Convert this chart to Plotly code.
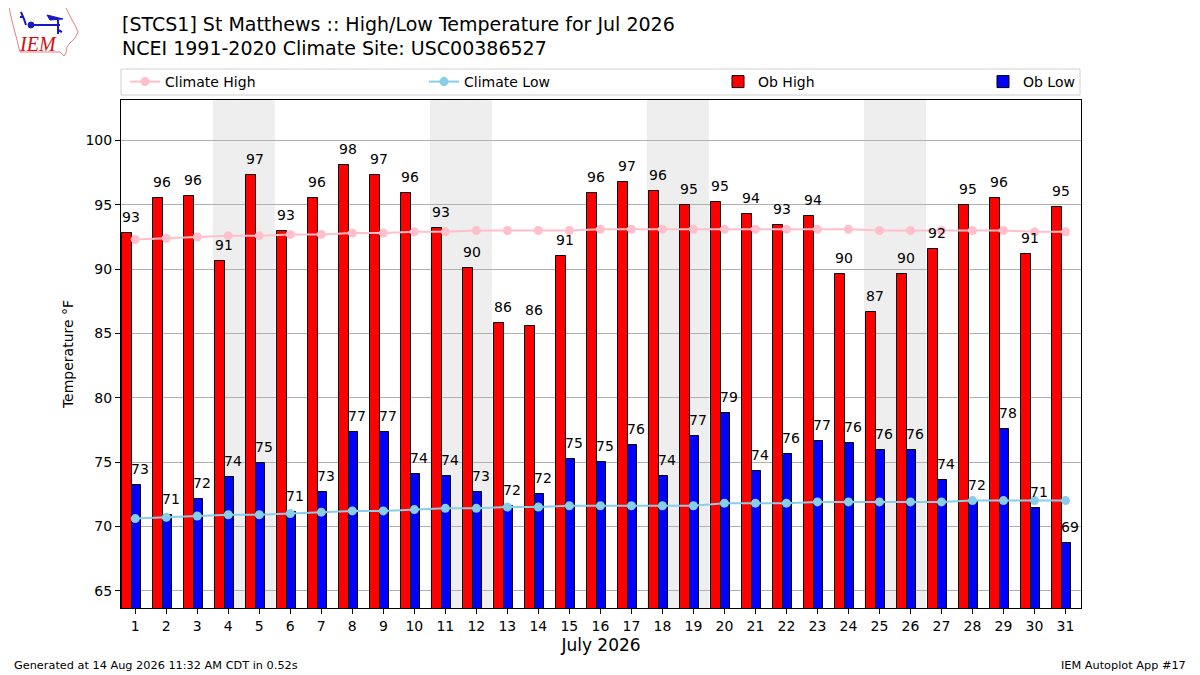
import plotly.graph_objects as go

# July 2026 daily data (St Matthews, STCS1)
days = list(range(1, 32))
ob_high = [92.8, 95.5, 95.7, 90.6, 97.3, 93.0, 95.5, 98.1, 97.3, 95.9,
           93.2, 90.1, 85.8, 85.6, 91.0, 95.9, 96.8, 96.1, 95.0, 95.2,
           94.3, 93.4, 94.1, 89.6, 86.7, 89.6, 91.6, 95.0, 95.5, 91.2, 94.8]
ob_low = [73.2, 70.9, 72.1, 73.8, 74.9, 71.1, 72.7, 77.3, 77.3, 74.1,
          73.9, 72.7, 71.6, 72.5, 75.2, 75.0, 76.3, 73.9, 77.0, 78.8,
          74.3, 75.6, 76.6, 76.5, 75.9, 75.9, 73.6, 72.0, 77.6, 71.4, 68.7]
clim_high = [92.3, 92.4, 92.5, 92.6, 92.6, 92.7, 92.7, 92.8, 92.8, 92.9,
             92.9, 93.0, 93.0, 93.0, 93.0, 93.1, 93.1, 93.1, 93.1, 93.1,
             93.1, 93.1, 93.1, 93.1, 93.0, 93.0, 93.0, 93.0, 93.0, 92.9, 92.9]
clim_low = [70.6, 70.7, 70.8, 70.9, 70.9, 71.0, 71.1, 71.2, 71.2, 71.3,
            71.4, 71.4, 71.5, 71.5, 71.6, 71.6, 71.6, 71.6, 71.6, 71.8,
            71.8, 71.8, 71.9, 71.9, 71.9, 71.9, 71.9, 72.0, 72.0, 72.0, 72.0]
weekends = [(4, 5), (11, 12), (18, 19), (25, 26)]
yticks = [65, 70, 75, 80, 85, 90, 95, 100]

FONT = "DejaVu Sans"
OFF = 8  # page body margin
W, H = 1200 - OFF, 675 - OFF
ML, MT = 121 - OFF, 100 - OFF
PW, PH = 960, 508
MR, MB = W - ML - PW, H - MT - PH


def px(x, y):
    # screen pixel position -> paper coords
    return (x - OFF - ML) / PW, (MT + PH - (y - OFF)) / PH


def ppath(pts, close=True):
    s = "M " + " L ".join(f"{px(a, b)[0]:.5f},{px(a, b)[1]:.5f}" for a, b in pts)
    return s + (" Z" if close else "")


fig = go.Figure()

fig.add_trace(go.Bar(
    x=days, y=ob_high, offset=-0.42, width=0.3, base=0,
    marker=dict(color="#ff0000", line=dict(color="black", width=1)),
    name="Ob High", legend="legend3"))
fig.add_trace(go.Bar(
    x=days, y=ob_low, offset=-0.12, width=0.29, base=0,
    marker=dict(color="#0000ff", line=dict(color="black", width=1)),
    name="Ob Low", legend="legend4"))
fig.add_trace(go.Scatter(
    x=days, y=clim_high, mode="lines+markers", name="Climate High",
    line=dict(color="pink", width=2), marker=dict(size=9, color="pink"),
    legend="legend"))
fig.add_trace(go.Scatter(
    x=days, y=clim_low, mode="lines+markers", name="Climate Low",
    line=dict(color="skyblue", width=2), marker=dict(size=9, color="skyblue"),
    legend="legend2"))

# value labels above bars
for d, v in zip(days, ob_high):
    fig.add_annotation(x=d - 0.15, y=v, text=f"{v:.0f}", showarrow=False,
                       yanchor="bottom", yshift=6, font=dict(size=14, color="black"))
for d, v in zip(days, ob_low):
    fig.add_annotation(x=d + 0.15, y=v, text=f"{v:.0f}", showarrow=False,
                       yanchor="bottom", yshift=6, font=dict(size=14, color="black"))

# weekend shading
for a, b in weekends:
    fig.add_vrect(x0=a - 0.5, x1=b + 0.5, fillcolor="#eeeeee", line_width=0, layer="below")

# titles
x0, y0 = px(120, 24)
fig.add_annotation(xref="paper", yref="paper", x=x0, y=y0, xanchor="left", yanchor="middle",
                   text="[STCS1] St Matthews :: High/Low Temperature for Jul 2026",
                   showarrow=False, font=dict(size=19, color="black"))
x0, y0 = px(120, 48)
fig.add_annotation(xref="paper", yref="paper", x=x0, y=y0, xanchor="left", yanchor="middle",
                   text="NCEI 1991-2020 Climate Site: USC00386527",
                   showarrow=False, font=dict(size=19, color="black"))

# footer
x0, y0 = px(12, 665)
fig.add_annotation(xref="paper", yref="paper", x=x0, y=y0, xanchor="left", yanchor="middle",
                   text="Generated at 14 Aug 2026 11:32 AM CDT in 0.52s",
                   showarrow=False, font=dict(size=11.3, color="black"))
x0, y0 = px(1188, 665)
fig.add_annotation(xref="paper", yref="paper", x=x0, y=y0, xanchor="right", yanchor="middle",
                   text="IEM Autoplot App #17",
                   showarrow=False, font=dict(size=11.3, color="black"))

# legend frame
lx0, ly0 = px(121, 95)
lx1, ly1 = px(1080, 69)
fig.add_shape(type="rect", xref="paper", yref="paper", x0=lx0, y0=ly0, x1=lx1, y1=ly1,
              line=dict(color="#d0d0d0", width=1), fillcolor="white", layer="below")

# IEM logo (rough sketch)
outline = [(9, 6), (65, 6), (68, 12), (72, 20), (75, 25), (78, 32), (75, 38), (70, 43),
           (67, 47), (66, 53), (64, 56), (60, 52), (20, 52), (17, 40), (13, 25), (10, 12)]
fig.add_shape(type="path", xref="paper", yref="paper", path=ppath(outline),
              line=dict(color="#e88080", width=1))
for pts in [[(32, 25), (60, 25)], [(21, 12), (24, 19), (26, 25)], [(20, 17), (23, 17)],
            [(58, 20), (58, 34)], [(58, 30), (62, 32)]]:
    fig.add_shape(type="path", xref="paper", yref="paper", path=ppath(pts, close=False),
                  line=dict(color="#1818c8", width=2))
fig.add_shape(type="path", xref="paper", yref="paper",
              path=ppath([(47, 15), (63, 19), (50, 20)]),
              line=dict(color="#1818c8", width=1), fillcolor="#1818c8")
c0, c1 = px(28, 22), px(34, 28)
fig.add_shape(type="circle", xref="paper", yref="paper", x0=c0[0], y0=c0[1], x1=c1[0], y1=c1[1],
              line=dict(color="#1818c8", width=1), fillcolor="#1818c8")
x0, y0 = px(38, 44)
fig.add_annotation(xref="paper", yref="paper", x=x0, y=y0, xanchor="center", yanchor="middle",
                   text="<i>IEM</i>", showarrow=False,
                   font=dict(family="Liberation Serif", size=20, color="#d01010"))

leg_common = dict(orientation="h", yanchor="middle", xanchor="left", bgcolor="rgba(0,0,0,0)",
                  font=dict(size=14, color="black", family=FONT))
ly = px(0, 82)[1]
fig.update_layout(
    width=W, height=H,
    margin=dict(l=ML, r=MR, t=MT, b=MB, autoexpand=False),
    paper_bgcolor="white", plot_bgcolor="white",
    font=dict(family=FONT, color="black"),
    barmode="overlay", bargap=0, showlegend=True,
    legend=dict(x=px(125, 0)[0], y=ly, **leg_common),
    legend2=dict(x=px(424, 0)[0], y=ly, **leg_common),
    legend3=dict(x=px(718, 0)[0], y=ly, **leg_common),
    legend4=dict(x=px(983, 0)[0], y=ly, **leg_common),
)
fig.update_xaxes(range=[0.54, 31.5], tickvals=days, ticktext=[str(d) for d in days],
                 ticks="outside", ticklen=5, tickcolor="black", showgrid=False,
                 showline=True, linecolor="black", linewidth=1, mirror=True, zeroline=False,
                 tickfont=dict(size=14), title=dict(text="July 2026", font=dict(size=17), standoff=6))
fig.update_yaxes(range=[63.65, 103.15], tickvals=yticks, ticks="outside", ticklen=5,
                 tickcolor="black", showgrid=True, gridcolor="#b0b0b0", gridwidth=1,
                 showline=True, linecolor="black", linewidth=1, mirror=True, zeroline=False,
                 tickfont=dict(size=14), title=dict(text="Temperature °F", font=dict(size=14), standoff=8))

fig.write_html("out.html")
